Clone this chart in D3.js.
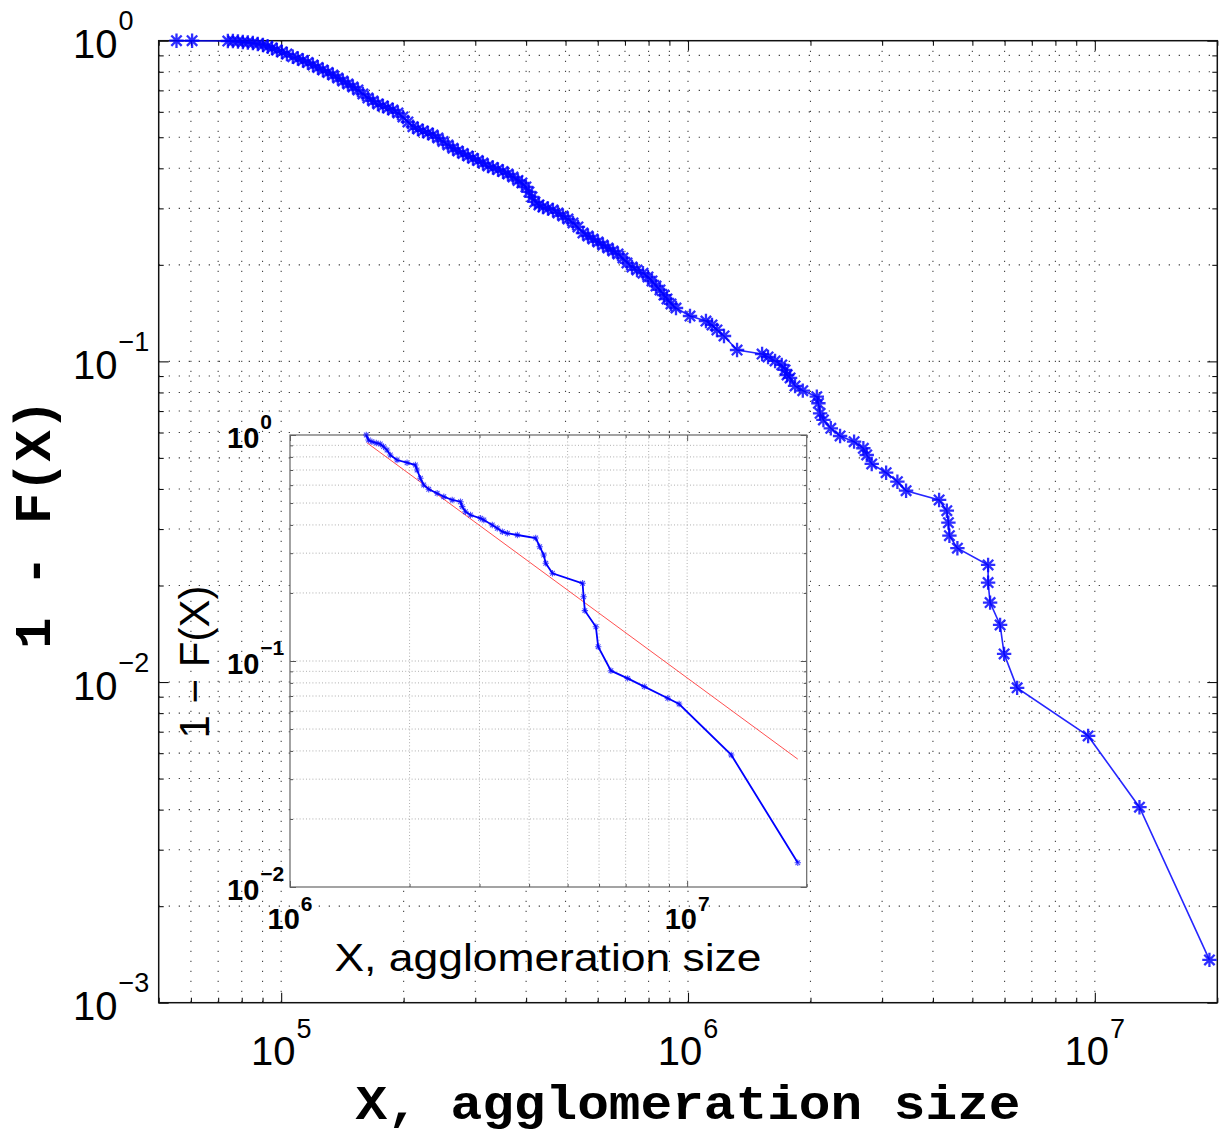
<!DOCTYPE html>
<html><head><meta charset="utf-8">
<script src="https://cdn.jsdelivr.net/npm/d3@7"></script>
<style>html,body{margin:0;padding:0;background:#fff}svg{display:block}</style>
</head><body>
<svg id="c" width="1226" height="1133"></svg>
<script>
// ---------------- data ----------------
const mainX = [55300,60400,73950,76100,78300,80500,82800,85200,87600,90200,92700,94900,97600,100400,103300,106800,109900,113100,116300,119700,123100,126600,130300,134000,137800,141800,145900,150100,154400,158800,163400,168100,172900,177900,183000,188200,193600,199200,204900,210800,216800,223100,229500,236100,242800,249800,257000,264400,271900,279800,287800,296000,304600,313300,322300,331500,341100,350900,360900,371300,381900,390700,399600,406500,413500,420500,430200,440000,452600,465600,479000,492800,506900,521500,536400,551800,567700,584000,600800,618000,635800,654000,672800,692100,707900,728300,749200,775100,797300,815600,834300,853300,872900,887800,908200,934300,1011400,1107000,1145500,1178000,1226000,1320000,1521000,1573000,1637000,1700000,1732000,1752000,1782000,1833000,1915000,2073000,2092000,2112000,2152000,2244000,2365000,2560000,2698000,2750000,2829000,3069000,3271000,3436000,4142000,4327000,4366000,4391000,4594000,5466000,5466000,5528000,5850000,5984000,6442000,9628000,12874000,19130000];
const mainY = [1,1,0.9978,0.9978,0.9943,0.9907,0.9872,0.9836,0.9766,0.9696,0.9592,0.9489,0.9354,0.9221,0.9090,0.8916,0.8801,0.8675,0.8552,0.8400,0.8250,0.8104,0.7960,0.7817,0.7650,0.7487,0.7328,0.7172,0.7019,0.6821,0.6628,0.6487,0.6349,0.6258,0.6169,0.6081,0.5952,0.5783,0.5579,0.5394,0.5306,0.5230,0.5156,0.5082,0.4974,0.4851,0.4730,0.4619,0.4530,0.4449,0.4370,0.4298,0.4230,0.4155,0.4067,0.4023,0.3966,0.3909,0.3840,0.3758,0.3665,0.3600,0.3498,0.3375,0.3256,0.3141,0.3074,0.3030,0.2998,0.2966,0.2903,0.2841,0.2780,0.2701,0.2625,0.2514,0.2460,0.2408,0.2357,0.2306,0.2257,0.2209,0.2162,0.2101,0.2027,0.1970,0.1928,0.1883,0.1833,0.1781,0.1718,0.1670,0.1610,0.1565,0.1510,0.1467,0.1385,0.1336,0.1299,0.1253,0.1200,0.1085,0.1054,0.1032,0.1003,0.09745,0.09401,0.09069,0.08876,0.08381,0.08103,0.07761,0.07402,0.06888,0.06565,0.06185,0.05852,0.05618,0.05358,0.05106,0.04787,0.04496,0.04214,0.03951,0.03697,0.03422,0.03141,0.02860,0.02614,0.02318,0.02042,0.01769,0.01507,0.01224,0.00959,0.00679,0.00407,0.00136];

const insetX = [1556000,1576000,1608000,1649000,1688000,1720000,1755000,1789000,1860000,1971000,2069000,2089000,2130000,2171000,2235000,2347000,2439000,2561000,2687000,2714000,2766000,2848000,3019000,3077000,3231000,3326000,3425000,3526000,3737000,4156000,4254000,4354000,4405000,4580000,5454000,5486000,5527000,5891000,5970000,6428000,7083000,7800000,8938000,9545000,12915000,18993000];
const insetY = [1,0.9503,0.9340,0.9218,0.9124,0.8878,0.8582,0.8156,0.7749,0.7539,0.7364,0.7000,0.6433,0.6009,0.5751,0.5521,0.5334,0.5158,0.5069,0.4818,0.4578,0.4426,0.4280,0.4206,0.3997,0.3865,0.3734,0.3673,0.3610,0.3501,0.3205,0.2945,0.2706,0.2444,0.2207,0.1925,0.1670,0.1418,0.1157,0.0906,0.0838,0.0770,0.0684,0.0645,0.0384,0.0128];

const fitX = [1562000, 18990000];
const fitY = [0.924, 0.0368];

const mainXTicks = [1e5, 1e6, 1e7];
const mainXExp = ["5", "6", "7"];
const mainYTicks = [1, 0.1, 0.01, 0.001];
const mainYExp = ["0", "\u22121", "\u22122", "\u22123"];
const insetXTicks = [1e6, 1e7];
const insetXExp = ["6", "7"];
const insetYTicks = [1, 0.1, 0.01];
const insetYExp = ["0", "\u22121", "\u22122"];

const mainXTitle = "X, agglomeration size";
const mainYTitle = "1 - F(X)";
const insetXTitle = "X, agglomeration size";
const insetYTitle = "1 \u2212 F(X)";

// ---------------- drawing ----------------
const svg = d3.select("#c");
const SANS = "'Liberation Sans', Arial, Helvetica, sans-serif";
const MONO = "'Liberation Mono', 'Courier New', monospace";
const BLUE = "#0000ff";

const isMajor = v => Math.abs(Math.log10(v) - Math.round(Math.log10(v))) < 1e-6;
const star = r => { const a = r * 0.72; return `M${-r},0L${r},0M0,${-r}L0,${r}M${-a},${-a}L${a},${a}M${-a},${a}L${a},${-a}`; };

function drawAxesFrame(g, x, y, o) {
  const [x0, x1] = x.range(), [y0, y1] = y.range();
  const xt = x.ticks(), yt = y.ticks();
  const gridX = xt.filter(v => x(v) > x0 + 1 && x(v) < x1 - 1);
  const gridY = yt.filter(v => y(v) < y0 - 1 && y(v) > y1 + 1);
  const gg = g.append("g").attr("stroke", o.gridColor).attr("stroke-width", o.gridWidth)
    .attr("stroke-dasharray", o.dash).attr("fill", "none");
  gg.selectAll(".gx").data(gridX).join("line").attr("class", "gx")
    .attr("x1", d => x(d)).attr("x2", d => x(d)).attr("y1", y1).attr("y2", y0);
  gg.selectAll(".gy").data(gridY).join("line").attr("class", "gy")
    .attr("y1", d => y(d)).attr("y2", d => y(d)).attr("x1", x0).attr("x2", x1);

  const majX = xt.filter(isMajor), minX = xt.filter(v => !isMajor(v));
  const majY = yt.filter(isMajor), minY = yt.filter(v => !isMajor(v));
  const axes = [
    [d3.axisBottom(x).tickValues(majX).tickSize(-o.maj), `translate(0,${y0})`],
    [d3.axisBottom(x).tickValues(minX).tickSize(-o.min), `translate(0,${y0})`],
    [d3.axisTop(x).tickValues(majX).tickSize(-o.maj), `translate(0,${y1})`],
    [d3.axisTop(x).tickValues(minX).tickSize(-o.min), `translate(0,${y1})`],
    [d3.axisLeft(y).tickValues(majY).tickSize(-o.maj), `translate(${x0},0)`],
    [d3.axisLeft(y).tickValues(minY).tickSize(-o.min), `translate(${x0},0)`],
    [d3.axisRight(y).tickValues(majY).tickSize(-o.maj), `translate(${x1},0)`],
    [d3.axisRight(y).tickValues(minY).tickSize(-o.min), `translate(${x1},0)`]
  ];
  axes.forEach(([ax, tr]) => {
    const a = g.append("g").attr("transform", tr).call(ax.tickFormat(""));
    a.select(".domain").remove();
    a.selectAll(".tick line").attr("stroke", o.tickColor).attr("stroke-width", o.tickWidth);
  });
  g.append("rect").attr("x", x0).attr("y", y1).attr("width", x1 - x0).attr("height", y0 - y1)
    .attr("fill", "none").attr("stroke", o.boxColor).attr("stroke-width", o.boxWidth);
}

// ---- main axes ----
const x = d3.scaleLog().domain([5e4, 2e7]).range([158.7, 1217.3]);
const y = d3.scaleLog().domain([1e-3, 1]).range([1002.7, 40.7]);
const gMain = svg.append("g");
drawAxesFrame(gMain, x, y, {gridColor: "#444", gridWidth: 1.1, dash: "1.3,8.7", maj: 10, min: 5,
  tickColor: "#111", tickWidth: 1.1, boxColor: "#111", boxWidth: 1.5});

const mainData = d3.zip(mainX, mainY);
gMain.append("path").datum(mainData).attr("fill", "none").attr("stroke", BLUE).attr("stroke-width", 1.6)
  .attr("stroke-opacity", 0.85)
  .attr("d", d3.line().x(d => x(d[0])).y(d => y(d[1])));
gMain.append("g").selectAll("path").data(mainData).join("path")
  .attr("transform", d => `translate(${x(d[0])},${y(d[1])})`)
  .attr("d", star(7.2)).attr("fill", "none").attr("stroke", BLUE).attr("stroke-width", 2.3)
  .attr("stroke-opacity", 0.82);

// main tick labels
const xl = gMain.selectAll(".xl").data(mainXTicks).join("text").attr("class", "xl")
  .attr("x", d => x(d)).attr("y", 1065).attr("text-anchor", "middle")
  .attr("font-family", SANS).attr("fill", "#000");
xl.append("tspan").attr("font-size", 40).text("10");
xl.append("tspan").attr("font-size", 27).attr("dy", -27).attr("dx", 1).text((d, i) => mainXExp[i]);

const yl = gMain.selectAll(".yl").data(mainYTicks).join("text").attr("class", "yl")
  .attr("x", 73).attr("y", d => y(d) + 17.5).attr("text-anchor", "start")
  .attr("font-family", SANS).attr("fill", "#000");
yl.append("tspan").attr("font-size", 40).text("10");
yl.append("tspan").attr("font-size", 27).attr("dy", -28).attr("dx", 1).text((d, i) => mainYExp[i]);

// main titles
gMain.append("text").attr("x", 688).attr("y", 1119).attr("text-anchor", "middle")
  .attr("font-family", MONO).attr("font-weight", "bold").attr("font-size", 48)
  .attr("textLength", 665).attr("lengthAdjust", "spacingAndGlyphs").text(mainXTitle);
gMain.append("text").attr("transform", "translate(50,524) rotate(-90)").attr("text-anchor", "middle")
  .attr("font-family", MONO).attr("font-weight", "bold").attr("font-size", 52).text(mainYTitle);

// ---- inset ----
const xi = d3.scaleLog().domain([1e6, 2e7]).range([290, 806.7]);
const yi = d3.scaleLog().domain([1e-2, 1]).range([887, 435]);
const gIn = svg.append("g");
gIn.append("rect").attr("x", 290).attr("y", 435).attr("width", 516.7).attr("height", 452).attr("fill", "#fff");
drawAxesFrame(gIn, xi, yi, {gridColor: "#9a9a9a", gridWidth: 0.8, dash: "1,2.2", maj: 6, min: 3,
  tickColor: "#555", tickWidth: 1, boxColor: "#666", boxWidth: 1.2});

gIn.append("path").datum(d3.zip(fitX, fitY)).attr("fill", "none").attr("stroke", "#ff3030")
  .attr("stroke-width", 1).attr("stroke-opacity", 0.85)
  .attr("d", d3.line().x(d => xi(d[0])).y(d => yi(d[1])));
const inData = d3.zip(insetX, insetY);
gIn.append("path").datum(inData).attr("fill", "none").attr("stroke", BLUE).attr("stroke-width", 1.8)
  .attr("d", d3.line().x(d => xi(d[0])).y(d => yi(d[1])));
gIn.append("g").selectAll("path").data(inData).join("path")
  .attr("transform", d => `translate(${xi(d[0])},${yi(d[1])})`)
  .attr("d", star(3.2)).attr("fill", "none").attr("stroke", BLUE).attr("stroke-width", 1.1)
  .attr("stroke-opacity", 0.7);

const xil = gIn.selectAll(".xil").data(insetXTicks).join("text").attr("class", "xil")
  .attr("x", d => xi(d)).attr("y", 929).attr("text-anchor", "middle")
  .attr("font-family", SANS).attr("font-weight", "bold").attr("fill", "#000");
xil.append("tspan").attr("font-size", 29).text("10");
xil.append("tspan").attr("font-size", 21).attr("dy", -18).attr("dx", 1).text((d, i) => insetXExp[i]);

const yil = gIn.selectAll(".yil").data(insetYTicks).join("text").attr("class", "yil")
  .attr("x", 227).attr("y", d => yi(d) + 13).attr("text-anchor", "start")
  .attr("font-family", SANS).attr("font-weight", "bold").attr("fill", "#000");
yil.append("tspan").attr("font-size", 29).text("10");
yil.append("tspan").attr("font-size", 21).attr("dy", -19).attr("dx", 1).text((d, i) => insetYExp[i]);

gIn.append("text").attr("x", 548).attr("y", 971).attr("text-anchor", "middle")
  .attr("font-family", SANS).attr("font-size", 38)
  .attr("textLength", 427).attr("lengthAdjust", "spacingAndGlyphs").text(insetXTitle);
gIn.append("text").attr("transform", "translate(209,662) rotate(-90)").attr("text-anchor", "middle")
  .attr("font-family", SANS).attr("font-size", 42).text(insetYTitle);
</script>
</body></html>
